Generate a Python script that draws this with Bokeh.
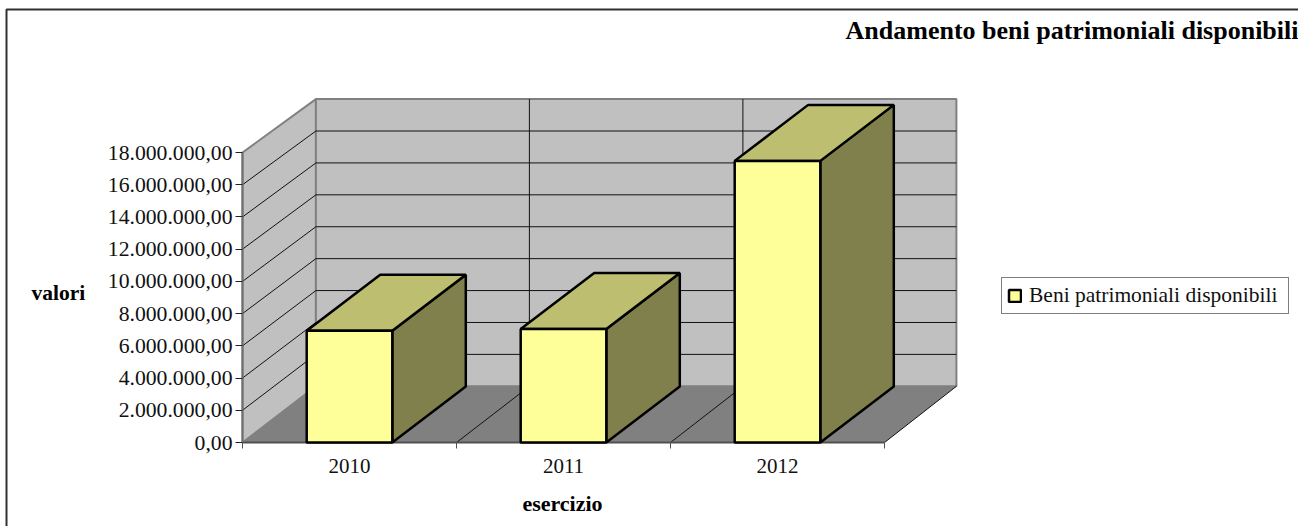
from bokeh.plotting import figure
from bokeh.models import Range1d, FixedTicker, Label, Legend, LegendItem
from bokeh.embed import file_html
from bokeh.resources import INLINE

categories = ["2010", "2011", "2012"]
values = [6930000, 7040000, 17480000]
y_ticks = [0, 2000000, 4000000, 6000000, 8000000, 10000000, 12000000, 14000000, 16000000, 18000000]
y_tick_labels = ["0,00", "2.000.000,00", "4.000.000,00", "6.000.000,00", "8.000.000,00", "10.000.000,00",
                 "12.000.000,00", "14.000.000,00", "16.000.000,00", "18.000.000,00"]
series_name = "Beni patrimoniali disponibili"
title_text = "Andamento beni patrimoniali disponibili"
x_title = "esercizio"
y_title = "valori"

FONT = "Liberation Serif"
W, H = 1298, 526
X0, Y0 = 242.0, 442.0   # pixel position of category 0 / value 0
PX_CAT = 214.0          # pixels per category
PX_MAX = 290.0          # pixels for VMAX
VMAX = 18000000.0

def px_x(px):
    return (px - X0) / PX_CAT

def px_y(py):
    return (Y0 - py) / PX_MAX * VMAX

def dx(px):
    return px / PX_CAT

def dy(px):
    return px / PX_MAX * VMAX

n = len(categories)
DEPTH_X = dx(73.4)
BACK_SHIFT = dy(56.2)
BACK_VSCALE = 287.2 / 290.0
BACK_HSCALE = 213.5 / 214.0
BAR_W = 0.4
BAR_DX = dx(73.5)
BAR_DY = dy(56)

def back(c, v):
    return c * BACK_HSCALE + DEPTH_X, v * BACK_VSCALE + BACK_SHIFT

p = figure(width=W, height=H, output_backend="svg", toolbar_location=None,
           x_range=Range1d(px_x(0), px_x(W)),
           y_range=Range1d(px_y(H), px_y(0)),
           min_border_left=0, min_border_right=0, min_border_bottom=0, min_border_top=0,
           outline_line_color=None, background_fill_color="white", border_fill_color="white")
p.grid.visible = False

# outer border
p.line([px_x(6), px_x(6), px_x(1300)], [px_y(530), px_y(9), px_y(9)], line_color="#303030", line_width=2)

# walls and floor
vtop = y_ticks[-1]
bx0, by0 = back(0, 0)
bx1, by1 = back(0, vtop)
rx0, _ = back(n, 0)
p.patch([0, bx0, bx1, 0], [0, by0, by1, vtop], fill_color="#C0C0C0", line_color="#808080", line_width=2)
p.patch([bx0, rx0, rx0, bx0], [by0, by0, by1, by1], fill_color="#C0C0C0", line_color="#808080", line_width=2)
p.patch([0, n, rx0, bx0], [0, 0, by0, by0], fill_color="#808080", line_color=None)

# gridlines
xs, ys = [], []
for v in y_ticks[1:-1]:
    xb, yb = back(0, v)
    xs.append([0, xb, rx0])
    ys.append([v, yb, yb])
for c in range(1, n):
    xb, yb0 = back(c, 0)
    _, yb1 = back(c, vtop)
    xs.append([c, xb, xb])
    ys.append([0, yb0, yb1])
xb, yb0 = back(n, 0)
xs.append([n, xb])
ys.append([0, yb0])
p.multi_line(xs, ys, line_color="#111111", line_width=1)

# 3D bars
lefts = [i + 0.5 - BAR_W / 2 for i in range(n)]
rights = [i + 0.5 + BAR_W / 2 for i in range(n)]
side_x = [[r, r + BAR_DX, r + BAR_DX, r] for r in rights]
side_y = [[0, BAR_DY, v + BAR_DY, v] for v in values]
top_x = [[l, r, r + BAR_DX, l + BAR_DX] for l, r in zip(lefts, rights)]
top_y = [[v, v, v + BAR_DY, v + BAR_DY] for v in values]
p.patches(side_x, side_y, fill_color="#80804C", line_color="black", line_width=2.5, level="overlay")
p.patches(top_x, top_y, fill_color="#BDBE70", line_color="black", line_width=2.5, level="overlay")
front = p.quad(left=lefts, right=rights, bottom=[0] * n, top=values,
               fill_color="#FFFF99", line_color="black", line_width=2.5, level="overlay")

# axes
ax = p.yaxis[0]
ax.fixed_location = 0
ax.ticker = FixedTicker(ticks=y_ticks)
ax.major_label_overrides = dict(zip(y_ticks, y_tick_labels))
ax.bounds = (0, vtop)
ax.axis_line_color = "#707070"
ax.axis_line_width = 2
ax.major_tick_line_color = "#222222"
ax.major_tick_line_width = 1
ax.major_tick_in = 0
ax.major_tick_out = 7
ax.minor_tick_in = 0
ax.minor_tick_out = 0
ax.major_label_standoff = 3
ax.major_label_text_font = FONT
ax.major_label_text_font_size = "21.7px"
ax.major_label_text_color = "#111111"

bx = p.xaxis[0]
bx.fixed_location = 0
centers = [i + 0.5 for i in range(n)]
bx.ticker = FixedTicker(ticks=centers, minor_ticks=list(range(n + 1)))
bx.major_label_overrides = dict(zip(centers, categories))
bx.bounds = (0, n)
bx.axis_line_color = "#505050"
bx.axis_line_width = 2
bx.major_tick_in = 0
bx.major_tick_out = 0
bx.minor_tick_in = 0
bx.minor_tick_out = 6
bx.minor_tick_line_color = "#505050"
bx.major_label_standoff = 10
bx.major_label_text_font = FONT
bx.major_label_text_font_size = "21px"
bx.major_label_text_color = "#111111"

# titles
p.add_layout(Label(x=px_x(31), y=px_y(292), text=y_title, text_font=FONT, text_font_size="21.5px",
                   text_font_style="bold", text_baseline="middle", text_align="left", text_color="black"))
p.add_layout(Label(x=px_x(562), y=px_y(503), text=x_title, text_font=FONT, text_font_size="22px",
                   text_font_style="bold", text_baseline="middle", text_align="center", text_color="black"))
p.add_layout(Label(x=px_x(1298), y=px_y(30), text=title_text, text_font=FONT, text_font_size="26px",
                   text_font_style="bold", text_baseline="middle", text_align="right", text_color="black"))

# legend
leg = Legend(items=[LegendItem(label=series_name, renderers=[front])],
             location=(1001, H - 314), orientation="vertical",
             label_text_font=FONT, label_text_font_size="21.5px", label_text_color="#111111",
             glyph_width=15, glyph_height=15, label_standoff=7, label_width=254,
             padding=5, margin=0, spacing=0,
             border_line_color="black", border_line_width=1, background_fill_color="white", background_fill_alpha=1)
p.add_layout(leg, "center")

open("out.html", "w").write(file_html(p, INLINE))
